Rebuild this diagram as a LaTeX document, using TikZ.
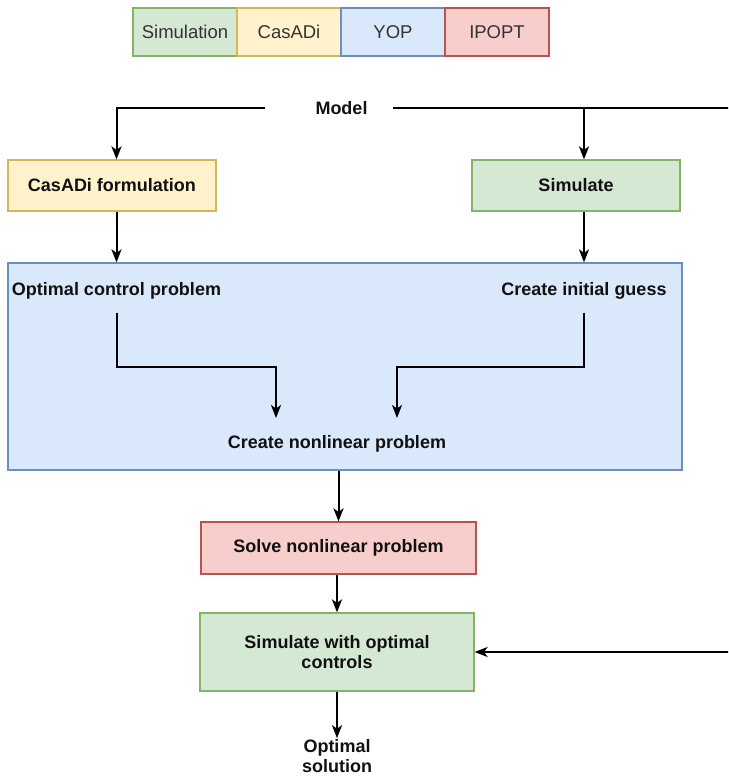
\documentclass[tikz,border=0pt]{standalone}
\usepackage{fontspec}
\setmainfont{Liberation Sans}
\usetikzlibrary{arrows.meta,calc}
\definecolor{gfill}{HTML}{D5E8D4}\definecolor{gline}{HTML}{82B366}
\definecolor{yfill}{HTML}{FFF2CC}\definecolor{yline}{HTML}{D6B656}
\definecolor{bfill}{HTML}{DAE8FC}\definecolor{bline}{HTML}{6C8EBF}
\definecolor{rfill}{HTML}{F8CECC}\definecolor{rline}{HTML}{B85450}
\definecolor{txt}{HTML}{111111}
\definecolor{legtxt}{HTML}{333333}
\begin{document}
\begin{tikzpicture}[x=1pt,y=-1pt,
  every node/.style={font=\fontsize{18}{20}\selectfont, text=txt},
  bbox/.style={draw, line width=1.2pt, inner sep=2pt},
  leg/.style={bbox, minimum width=104pt, minimum height=48pt, text=legtxt, font=\fontsize{18.5}{20}\selectfont},
  lbl/.style={font=\fontsize{18}{20}\selectfont\bfseries, inner sep=1pt, align=center},
  arr/.style={line width=2pt, black, -{Stealth[length=13pt,width=10pt,inset=3.5pt]}}]
\clip (0,0) rectangle (728,776);
% legend
\node[leg, fill=gfill, draw=gline] (lsim) at (185,32) {Simulation};
\node[leg, fill=yfill, draw=yline] (lcas) at (289,32) {CasADi};
\node[leg, fill=bfill, draw=bline] (lyop) at (393,32) {YOP};
\node[leg, fill=rfill, draw=rline] (lipo) at (497,32) {IPOPT};
% main boxes
\node[bbox, fill=bfill, draw=bline, minimum width=674pt, minimum height=207pt] (yop) at (345,366.5) {};
\node[bbox, fill=yfill, draw=yline, minimum width=208pt, minimum height=51pt, lbl] (cas) at (112,185.5) {CasADi formulation};
\node[bbox, fill=gfill, draw=gline, minimum width=208pt, minimum height=51pt, lbl] (sim) at (576,185.5) {Simulate};
\node[bbox, fill=rfill, draw=rline, minimum width=275pt, minimum height=52pt, lbl] (solve) at (338.5,548) {Solve nonlinear problem};
\node[bbox, fill=gfill, draw=gline, minimum width=274pt, minimum height=78pt, lbl] (sim2) at (337,652) {Simulate with optimal\\controls};
% text nodes
\node[lbl] (model) at (341.5,108) {Model};
\coordinate (ml) at (265,108);
\coordinate (mr) at (393,108);
\node[lbl] (ocp) at (116.5,291) {Optimal control problem};
\node[lbl] (cig) at (584,291) {Create initial guess};
\node[lbl] (cnp) at (337,444) {Create nonlinear problem};
\node[lbl] (out) at (337,756) {Optimal\\solution};
\coordinate (tL) at (276,418);
\coordinate (tR) at (397,418);
\coordinate (far) at (745,108);
% connectors
\draw[arr] (ml) -| (cas.north -| ocp);
\draw[arr] (mr) -| (sim.north -| cig);
\draw[arr] (mr) -- (far) |- (sim2.east);
\draw[arr] (cas.south -| ocp) -- (yop.north -| ocp);
\draw[arr] (sim.south -| cig) -- (yop.north -| cig);
\draw[arr] ($(ocp.south)+(0,12)$) |- ($(tL)+(0,-51)$) -- (tL);
\draw[arr] ($(cig.south)+(0,12)$) |- ($(tR)+(0,-51)$) -- (tR);
\draw[arr] (yop.south -| solve) -- (solve.north);
\draw[arr] (solve.south -| sim2) -- (sim2.north);
\draw[arr] (sim2.south) -- (out.north);
\end{tikzpicture}
\end{document}
